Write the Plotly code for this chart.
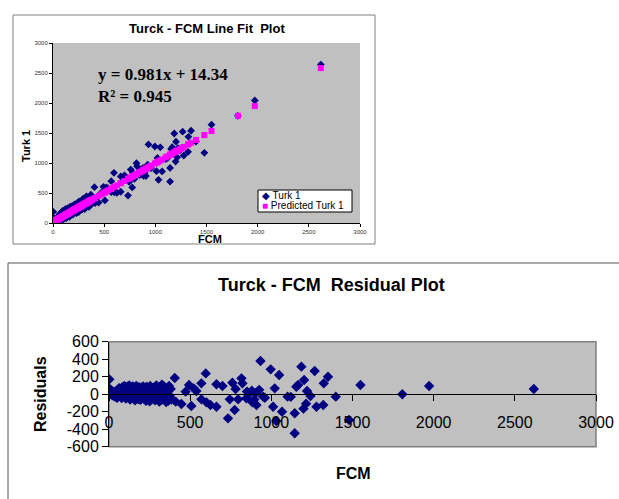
import plotly.graph_objects as go

# ---------------- data ----------------
# regression shown on the chart
slope = 0.981
intercept = 14.34

# FCM values (x) and residuals
fcm_cluster = [2, 5, 8, 10, 12, 15, 18, 20, 22, 25,
               28, 30, 33, 36, 40, 43, 46, 50, 54, 58,
               62, 66, 70, 74, 78, 82, 86, 90, 95, 100,
               104, 108, 112, 116, 120, 125, 130, 134, 138, 142,
               146, 150, 155, 160, 164, 168, 172, 176, 180, 185,
               190, 194, 198, 202, 206, 210, 215, 220, 224, 228,
               232, 236, 240, 245, 250, 254, 258, 262, 266, 270,
               275, 280, 284, 288, 292, 296, 300, 305, 310, 314,
               318, 322, 326, 330, 335, 340, 344, 348, 352, 356,
               360, 365, 370, 375, 380, 385]
res_cluster = [170, 60, 30, 45, 10, -5, 20, 35, -10, 15,
               0, -20, 25, 10, -30, 5, -15, -40, 12, 40,
               70, 20, -25, 55, -45, 80, 30, -10, 95, 60,
               -50, 15, 85, -30, 45, 100, -60, 20, 70, -40,
               90, -15, 50, -70, 35, 95, -20, 60, -55, 80,
               10, -65, 75, 40, -35, 90, -50, 20, 65, -75,
               85, 30, -45, 55, -80, 95, 15, -60, 45, 70,
               -30, 80, -70, 10, 100, -50, 60, 25, -85, 75,
               40, -65, 110, 5, -55, 85, -40, 50, -90, 30,
               70, -75, 95, -20, 60, -60]

fcm_sparse = [405, 411, 446, 472, 493, 507, 522, 538, 569, 596,
              569, 600, 625, 662, 662, 699, 733, 744, 760, 774,
              795, 816, 822, 846, 866, 883, 908, 933, 908, 949,
              996, 1011, 1021, 1031, 1048, 1066, 1100, 1120, 1144, 1144,
              1154, 1165, 1185, 1202, 1198, 1214, 1220, 1241, 1267, 1278,
              1323, 1320, 1349, 1397, 1479, 1549, 1807, 1972, 2617,
              880, 895, 925, 960, 850, 780]
res_sparse = [185, -85, -112, 29, 105, -135, 67, 37, 124, 238,
              -59, -93, -123, -143, 113, 94, -276, -59, 131, -181,
              -59, 181, 124, -47, 10, -93, 20, 380, -123, -28,
              284, -143, 67, -306, 219, -200, -28, -30, -447, -218,
              85, 105, 315, 162, -165, -108, 37, -20, 265, -143,
              124, -123, 200, -28, -295, 105, 0, 94, 59,
              40, -60, 50, -40, 30, 60]

fcm = fcm_cluster + fcm_sparse
residuals = res_cluster + res_sparse
predicted = [slope * v + intercept for v in fcm]
turk1 = [p + r for p, r in zip(predicted, residuals)]

axis_ticks = [0, 500, 1000, 1500, 2000, 2500, 3000]
axis_tick_text = ["0", "500", "1000", "1500", "2000", "2500", "3000"]
res_ticks = [-600, -400, -200, 0, 200, 400, 600]
res_tick_text = ["-600", "-400", "-200", "0", "200", "400", "600"]

series_names = ["Turk 1", "Predicted Turk 1"]

# ---------------- layout helpers ----------------
W, H = 619, 499
def fx(p):
    return p / W
def fy(p):
    return 1 - p / H

NAVY = "#000080"
MAGENTA = "#FF00FF"
GRAY = "#C0C0C0"
SANS = "Liberation Sans, Arial, sans-serif"
SERIF = "Liberation Serif, Times New Roman, serif"

fig = go.Figure()

fig.add_trace(go.Scatter(
    x=fcm, y=turk1, mode="markers", name=series_names[0],
    marker=dict(symbol="diamond", size=6, color=NAVY),
    showlegend=False, xaxis="x", yaxis="y"))
fig.add_trace(go.Scatter(
    x=fcm, y=predicted, mode="markers", name=series_names[1],
    marker=dict(symbol="square", size=6, color=MAGENTA),
    showlegend=False, xaxis="x", yaxis="y"))
fig.add_trace(go.Scatter(
    x=fcm, y=residuals, mode="markers", name="Residuals",
    marker=dict(symbol="diamond", size=8, color=NAVY),
    showlegend=False, xaxis="x2", yaxis="y2"))

annotations = [
    dict(text="<b>Turck - FCM Line Fit  Plot</b>", xref="paper", yref="paper",
         x=fx(207), y=fy(28), xanchor="center", yanchor="middle",
         showarrow=False, font=dict(size=13, family=SANS)),
    dict(text="<b>y = 0.981x + 14.34</b>", xref="paper", yref="paper",
         x=fx(96), y=fy(74), xanchor="left", yanchor="middle",
         showarrow=False, font=dict(size=17, family=SERIF)),
    dict(text="<b>R² = 0.945</b>", xref="paper", yref="paper",
         x=fx(96), y=fy(97), xanchor="left", yanchor="middle",
         showarrow=False, font=dict(size=17, family=SERIF)),
    dict(text="<b>Turk 1</b>", xref="paper", yref="paper",
         x=fx(26), y=fy(146), xanchor="center", yanchor="middle",
         textangle=-90, showarrow=False, font=dict(size=11, family=SANS)),
    dict(text="<b>FCM</b>", xref="paper", yref="paper",
         x=fx(210), y=fy(239), xanchor="center", yanchor="middle",
         showarrow=False, font=dict(size=11, family=SANS)),
    dict(text="<b>Turck - FCM  Residual Plot</b>", xref="paper", yref="paper",
         x=fx(331), y=fy(285), xanchor="center", yanchor="middle",
         showarrow=False, font=dict(size=18, family=SANS)),
    dict(text="<b>Residuals</b>", xref="paper", yref="paper",
         x=fx(40), y=fy(394), xanchor="center", yanchor="middle",
         textangle=-90, showarrow=False, font=dict(size=16, family=SANS)),
    dict(text="<b>FCM</b>", xref="paper", yref="paper",
         x=fx(353), y=fy(473), xanchor="center", yanchor="middle",
         showarrow=False, font=dict(size=16, family=SANS)),
    # compact legend (Excel style)
    dict(text="<span style='color:%s'>◆</span> %s" % (NAVY, series_names[0]),
         xref="paper", yref="paper", x=fx(260), y=fy(196),
         xanchor="left", yanchor="middle", showarrow=False,
         font=dict(size=10, family=SANS)),
    dict(text="<span style='color:%s'>■</span> %s" % (MAGENTA, series_names[1]),
         xref="paper", yref="paper", x=fx(260), y=fy(206),
         xanchor="left", yanchor="middle", showarrow=False,
         font=dict(size=10, family=SANS)),
]

fig.update_layout(
    width=W, height=H,
    margin=dict(l=0, r=0, t=0, b=0, pad=0, autoexpand=False),
    paper_bgcolor="white",
    plot_bgcolor=GRAY,
    font=dict(family=SANS, color="black"),
    showlegend=False,
    xaxis=dict(domain=[fx(53), fx(360)], range=[0, 3000], anchor="y",
               automargin=False,
               tickvals=axis_ticks, ticktext=axis_tick_text,
               tickfont=dict(size=6, color="#333333"),
               ticks="outside", ticklen=3, tickcolor="black",
               showline=True, linecolor="black", linewidth=1,
               showgrid=False, zeroline=False),
    yaxis=dict(domain=[fy(223), fy(43)], range=[0, 3000], anchor="x",
               automargin=False,
               tickvals=axis_ticks, ticktext=axis_tick_text,
               tickfont=dict(size=6, color="#333333"),
               ticks="outside", ticklen=3, tickcolor="black",
               showline=True, linecolor="black", linewidth=1,
               showgrid=False, zeroline=False),
    xaxis2=dict(domain=[fx(109), fx(596)], range=[0, 3000], anchor="free",
                position=fy(394.2), automargin=False,
                tickvals=axis_ticks, ticktext=axis_tick_text,
                tickfont=dict(size=16, color="black"),
                ticks="outside", ticklen=6, tickcolor="black",
                ticklabelstandoff=8,
                showline=True, linecolor="black", linewidth=1,
                showgrid=False, zeroline=False),
    yaxis2=dict(domain=[fy(446.7), fy(341.7)], range=[-600, 600], anchor="x2",
                automargin=False,
                tickvals=res_ticks, ticktext=res_tick_text,
                tickfont=dict(size=16, color="black"),
                ticks="outside", ticklen=6, tickcolor="black",
                showline=True, linecolor="black", linewidth=1,
                showgrid=False, zeroline=False),
    shapes=[
        dict(type="rect", xref="paper", yref="paper",
             x0=fx(13), x1=fx(375), y0=fy(244), y1=fy(15),
             line=dict(color="#808080", width=1), layer="below"),
        dict(type="rect", xref="paper", yref="paper",
             x0=fx(8), x1=fx(640), y0=fy(520), y1=fy(263),
             line=dict(color="#555555", width=1), layer="below"),
        dict(type="rect", xref="x2 domain", yref="y2 domain",
             x0=0, x1=1, y0=0, y1=1,
             line=dict(color="#808080", width=1.5), layer="below"),
        # legend box
        dict(type="rect", xref="paper", yref="paper",
             x0=fx(258), x1=fx(352), y0=fy(212), y1=fy(190),
             line=dict(color="black", width=1), fillcolor="white",
             layer="above"),
    ],
    annotations=annotations,
)

fig.write_html("out.html", config={"displayModeBar": False},
               post_script="document.body.style.margin='0';")
